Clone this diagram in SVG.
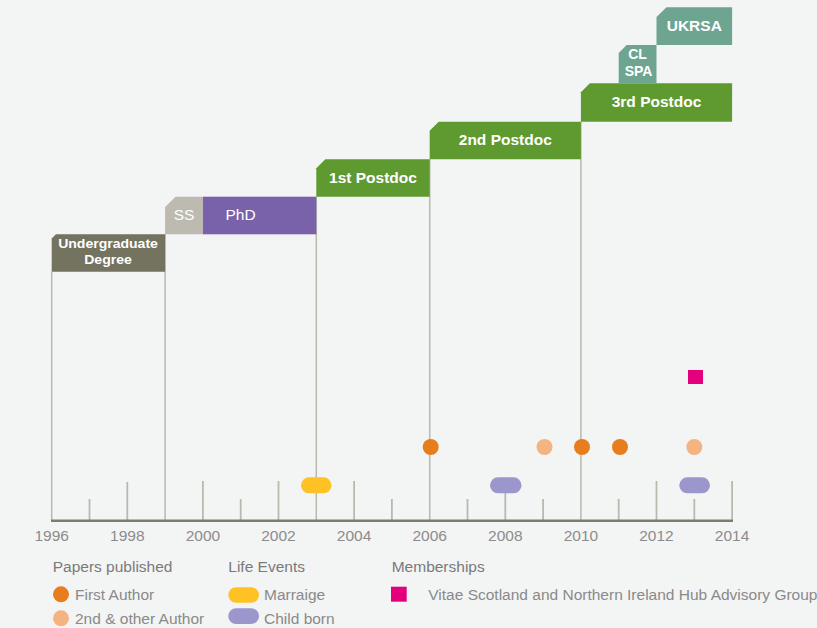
<svg xmlns="http://www.w3.org/2000/svg" width="817" height="628" viewBox="0 0 817 628">
<style>
.bg{fill:#f3f4f4}
.vl{stroke:#b9b9ae;stroke-width:1.5;fill:none}
.tk{stroke:#b9b9ae;stroke-width:1.8}
.ax{stroke:#7d7d6c;stroke-width:2.5}
.yr{font-family:"Liberation Sans",Arial,sans-serif;font-size:15.5px;fill:#8c8c8c;text-anchor:middle}
.bl{font-family:"Liberation Sans",Arial,sans-serif;font-size:15.5px;font-weight:bold;fill:#ffffff;text-anchor:middle}
.bn{font-family:"Liberation Sans",Arial,sans-serif;font-size:15.5px;fill:#ffffff;text-anchor:middle}
.lh{font-family:"Liberation Sans",Arial,sans-serif;font-size:15.5px;fill:#7a7a7a}
.li{font-family:"Liberation Sans",Arial,sans-serif;font-size:15.5px;fill:#8a8a8a}
.fa{fill:#e87d1e}
.oa{fill:#f4b482}
.mar{fill:#ffc124}
.chl{fill:#9b97cc}
.mem{fill:#e4007c}
</style>
<rect class="bg" x="0" y="0" width="817" height="628"/>
<g id="connectors">
  <line class="vl" x1="51.7" y1="271.7" x2="51.7" y2="520.5"/>
  <line class="vl" x1="165.1" y1="234.3" x2="165.1" y2="520.5"/>
  <line class="vl" x1="316.3" y1="196.7" x2="316.3" y2="520.5"/>
  <line class="vl" x1="429.7" y1="159.3" x2="429.7" y2="520.5"/>
  <line class="vl" x1="580.9" y1="121.7" x2="580.9" y2="520.5"/>
  <line class="tk" x1="89.5" y1="499" x2="89.5" y2="520"/>
  <line class="tk" x1="127.3" y1="482" x2="127.3" y2="520"/>
  <line class="tk" x1="202.9" y1="481" x2="202.9" y2="520"/>
  <line class="tk" x1="240.7" y1="499" x2="240.7" y2="520"/>
  <line class="tk" x1="278.5" y1="481" x2="278.5" y2="520"/>
  <line class="tk" x1="354.1" y1="481" x2="354.1" y2="520"/>
  <line class="tk" x1="391.9" y1="499" x2="391.9" y2="520"/>
  <line class="tk" x1="467.5" y1="499" x2="467.5" y2="520"/>
  <line class="tk" x1="505.3" y1="481" x2="505.3" y2="520"/>
  <line class="tk" x1="543.1" y1="499" x2="543.1" y2="520"/>
  <line class="tk" x1="618.7" y1="499" x2="618.7" y2="520"/>
  <line class="tk" x1="656.5" y1="481" x2="656.5" y2="520"/>
  <line class="tk" x1="694.3" y1="499" x2="694.3" y2="520"/>
  <line class="tk" x1="732.1" y1="481" x2="732.1" y2="520"/>
  <line class="ax" x1="51" y1="520.7" x2="733" y2="520.7"/>
</g>
<g id="axis-labels">
  <text class="yr" x="51.7" y="540.5">1996</text>
  <text class="yr" x="127.3" y="540.5">1998</text>
  <text class="yr" x="202.9" y="540.5">2000</text>
  <text class="yr" x="278.5" y="540.5">2002</text>
  <text class="yr" x="354.1" y="540.5">2004</text>
  <text class="yr" x="429.7" y="540.5">2006</text>
  <text class="yr" x="505.3" y="540.5">2008</text>
  <text class="yr" x="580.9" y="540.5">2010</text>
  <text class="yr" x="656.5" y="540.5">2012</text>
  <text class="yr" x="732.1" y="540.5">2014</text>
</g>
<g id="undergraduate">
  <path d="M51.7,238.5 L55.9,234.3 L165.1,234.3 L165.1,271.7 L51.7,271.7 Z" fill="#737360"/>
  <g transform="translate(108,0) scale(1.08,1)">
    <text class="bl" style="font-size:13px"><tspan x="0" y="248.5">Undergraduate</tspan><tspan x="0" y="264">Degree</tspan></text>
  </g>
</g>
<g id="ss">
  <path d="M165.1,207 L175.5,196.7 L202.9,196.7 L202.9,234.3 L165.1,234.3 Z" fill="#bdbbb0"/>
  <text class="bn" x="184" y="219.5">SS</text>
</g>
<g id="phd">
  <rect x="202.9" y="196.7" width="113.4" height="37.6" fill="#7a62ab"/>
  <text class="bn" x="240.5" y="219.5">PhD</text>
</g>
<g id="postdoc1">
  <path d="M316.3,168.3 L325.3,159.3 L429.7,159.3 L429.7,196.7 L316.3,196.7 Z" fill="#5f9a30"/>
  <text class="bl" x="373" y="183">1st Postdoc</text>
</g>
<g id="postdoc2">
  <path d="M429.7,130.7 L438.7,121.7 L580.9,121.7 L580.9,159.3 L429.7,159.3 Z" fill="#5f9a30"/>
  <text class="bl" x="505.3" y="144.5">2nd Postdoc</text>
</g>
<g id="postdoc3">
  <path d="M580.9,92.3 L589.9,83.3 L732.1,83.3 L732.1,121.7 L580.9,121.7 Z" fill="#5f9a30"/>
  <text class="bl" x="656.5" y="107">3rd Postdoc</text>
</g>
<g id="clspa">
  <path d="M618.7,53 L626.7,45 L656.5,45 L656.5,83.3 L618.7,83.3 Z" fill="#6ea591"/>
  <text class="bl" style="font-size:14px"><tspan x="637.5" y="58.5">CL</tspan><tspan x="638.5" y="76">SPA</tspan></text>
</g>
<g id="ukrsa">
  <path d="M656.5,17 L666.5,7.3 L732.1,7.3 L732.1,45 L656.5,45 Z" fill="#6ea591"/>
  <text class="bl" x="694.3" y="30.7">UKRSA</text>
</g>
<g id="events">
  <circle class="fa" cx="430.7" cy="447" r="8"/>
  <circle class="fa" cx="582" cy="447" r="8"/>
  <circle class="fa" cx="620" cy="447" r="8"/>
  <circle class="oa" cx="544.5" cy="447" r="8"/>
  <circle class="oa" cx="694.3" cy="447" r="8"/>
  <rect class="mem" x="688" y="370" width="15" height="14"/>
  <rect class="mar" x="301" y="477.3" width="30.5" height="16" rx="8"/>
  <rect class="chl" x="490" y="477.3" width="31.5" height="16" rx="8"/>
  <rect class="chl" x="679.3" y="477.3" width="30.7" height="16" rx="8"/>
</g>
<g id="legend">
  <text class="lh" x="52.7" y="572">Papers published</text>
  <circle class="fa" cx="61" cy="594.3" r="8"/>
  <text class="li" x="75" y="600">First Author</text>
  <circle class="oa" cx="61" cy="618.3" r="8"/>
  <text class="li" x="75" y="624">2nd &amp; other Author</text>
  <text class="lh" x="228.3" y="572">Life Events</text>
  <rect class="mar" x="228.3" y="587.3" width="30.7" height="15.4" rx="7.7"/>
  <text class="li" x="264" y="600">Marraige</text>
  <rect class="chl" x="228.3" y="608.3" width="30.7" height="15.7" rx="7.8"/>
  <text class="li" x="264" y="624">Child born</text>
  <text class="lh" x="391.7" y="572">Memberships</text>
  <rect class="mem" x="391" y="586.7" width="15.7" height="15"/>
  <text class="li" x="428.3" y="600">Vitae Scotland and Northern Ireland Hub Advisory Group</text>
</g>
</svg>
